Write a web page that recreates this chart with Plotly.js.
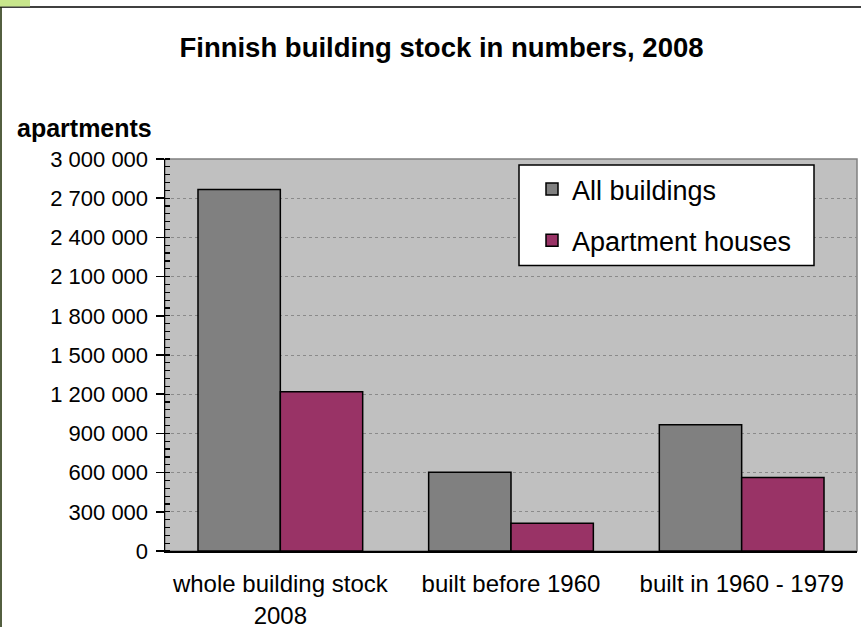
<!DOCTYPE html>
<html>
<head>
<meta charset="utf-8">
<script src="https://cdn.plot.ly/plotly-3.0.1.min.js"></script>
<style>
html,body{margin:0;padding:0;background:#ffffff;}
#chart{width:861px;height:627px;}
</style>
</head>
<body>
<div id="chart"></div>
<script>
const categories = ["whole building stock<br>2008", "built before 1960", "built in 1960 - 1979"];
const allBuildings = [2766000, 603000, 966000];
const apartmentHouses = [1218000, 212000, 562000];
const seriesNames = ["All buildings", "Apartment houses"];
const yTickVals = [0, 300000, 600000, 900000, 1200000, 1500000, 1800000, 2100000, 2400000, 2700000, 3000000];

const W = 861, H = 627;
const mL = 165, mR = 4, mT = 159, mB = 76;
const pw = W - mL - mR, ph = H - mT - mB;
const px = v => (v - mL) / pw;
const py = v => (H - mB - v) / ph;

const FONT = "Liberation Sans, Arial, sans-serif";

const traces = [
  {
    type: "bar", name: seriesNames[0], x: categories, y: allBuildings,
    marker: {color: "#808080", line: {color: "#000000", width: 1.5}},
    legendgroup: "a", hoverinfo: "skip"
  },
  {
    type: "bar", name: seriesNames[1], x: categories, y: apartmentHouses,
    marker: {color: "#993366", line: {color: "#000000", width: 1.5}},
    legendgroup: "b", hoverinfo: "skip"
  }
];

const layout = {
  width: W, height: H,
  margin: {l: mL, r: mR, t: mT, b: mB, pad: 0},
  paper_bgcolor: "#ffffff",
  plot_bgcolor: "#c0c0c0",
  separators: ". ",
  font: {family: FONT, color: "#000000"},
  barmode: "group",
  bargap: 0.286,
  bargroupgap: 0,
  title: {
    text: "<b>Finnish building stock in numbers, 2008</b>",
    font: {family: FONT, size: 27.5, color: "#000000"},
    xref: "container", yref: "container",
    x: 441.5 / W, y: 1 - 47 / H, xanchor: "center", yanchor: "middle"
  },
  xaxis: {
    type: "category",
    range: [-0.5, 2.5],
    showgrid: false,
    showline: true, linecolor: "#000000", linewidth: 1.5,
    ticks: "",
    tickfont: {family: FONT, size: 24, color: "#000000"},
    ticklabelstandoff: 11,
    zeroline: false
  },
  yaxis: {
    range: [0, 3000000],
    tickvals: yTickVals,
    tickformat: ",d",
    showline: true, linecolor: "#000000", linewidth: 1.5,
    ticks: "outside", ticklen: 8, tickcolor: "#000000", tickwidth: 1.5,
    tickfont: {family: FONT, size: 22, color: "#000000"},
    ticklabelstandoff: 3,
    showgrid: true, gridcolor: "#8a8a8a", gridwidth: 1, griddash: "3px,3px",
    zeroline: false,
    minor: {ticks: "inside", ticklen: 5, tickcolor: "#000000", tickwidth: 1.2, dtick: 60000, showgrid: false}
  },
  showlegend: true,
  legend: {
    x: px(532), y: py(165), xanchor: "left", yanchor: "top",
    bgcolor: "rgba(0,0,0,0)", borderwidth: 0,
    font: {family: FONT, size: 27, color: "#000000"},
    traceorder: "grouped", tracegroupgap: 13,
    itemclick: false, itemdoubleclick: false
  },
  shapes: [
    {type: "rect", xref: "paper", yref: "paper", x0: 0, x1: 1, y0: 0, y1: 1,
     line: {color: "#808080", width: 1.5}, fillcolor: "rgba(0,0,0,0)", layer: "below"},
    {type: "rect", xref: "paper", yref: "paper", x0: px(519), x1: px(814), y0: py(265.5), y1: py(165),
     line: {color: "#000000", width: 1.5}, fillcolor: "#ffffff", layer: "above"},
    {type: "line", xref: "paper", yref: "paper", x0: px(0), x1: px(W), y0: py(7), y1: py(7),
     line: {color: "#000000", width: 1.5}},
    {type: "line", xref: "paper", yref: "paper", x0: px(1), x1: px(1), y0: py(7), y1: py(H),
     line: {color: "#1a2a00", width: 1.5}},
    {type: "rect", xref: "paper", yref: "paper", x0: px(0), x1: px(30), y0: py(6.5), y1: py(0),
     line: {width: 0}, fillcolor: "#c8e68c"}
  ],
  annotations: [
    {text: "<b>apartments</b>", xref: "paper", yref: "paper",
     x: px(15), y: py(128), xanchor: "left", yanchor: "middle", showarrow: false,
     font: {family: FONT, size: 25, color: "#000000"}}
  ]
};

Plotly.newPlot("chart", traces, layout, {displayModeBar: false, staticPlot: true});
</script>
</body>
</html>
